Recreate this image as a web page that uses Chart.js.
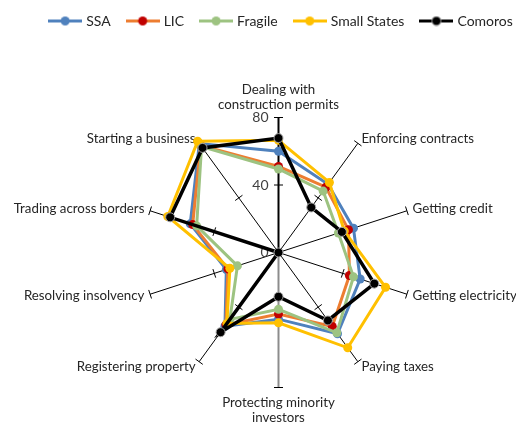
<!DOCTYPE html>
<html>
<head>
<meta charset="utf-8">
<script src="https://cdn.jsdelivr.net/npm/chart.js@4.4.1/dist/chart.umd.min.js"></script>
<style>
  body { margin: 0; background: #fff; }
  #wrap { width: 516px; height: 424px; }
</style>
</head>
<body>
<div id="wrap"><canvas id="radar" width="516" height="424"></canvas></div>
<script>
var indicators = [
    ['Dealing with', 'construction permits'],
    'Enforcing contracts',
    'Getting credit',
    'Getting electricity',
    'Paying taxes',
    ['Protecting minority', 'investors'],
    'Registering property',
    'Resolving insolvency',
    'Trading across borders',
    'Starting a business'
];

var ssa         = [60, 50, 46.7, 50.9, 59.5, 39.5, 54, 32.5, 55, 79.8];
var lic         = [51, 47.8, 43.6, 44.2, 54.2, 36.5, 53, 31.5, 53.5, 78.5];
var fragile     = [49.5, 45, 37.3, 46.7, 58.8, 33.7, 49, 25.6, 51, 77.6];
var smallStates = [66.5, 51.3, 41, 66.7, 69.8, 41.7, 52, 30.3, 69, 81.5];
var comoros     = [67.8, 33, 39.5, 59.7, 49.8, 26.2, 58.4, 0, 67.5, 76.6];

var tickValues = [0, 40, 80];

var FONT = 'Lato, "DejaVu Sans", sans-serif';
var TEXT = '#262626';

// plot frame (Excel puts the radar off-centre, below a roomy legend)
var plotCenter = { x: 278.5, y: 252.5 };
var plotRadius = 135;

// legend swatch: a short line with the marker in the middle
function swatch(lineColor, markerColor, markerBorder) {
    var c = document.createElement('canvas');
    c.width = 34;
    c.height = 11;
    var g = c.getContext('2d');
    g.strokeStyle = lineColor;
    g.lineWidth = 3;
    g.beginPath();
    g.moveTo(0, 5.5);
    g.lineTo(34, 5.5);
    g.stroke();
    g.beginPath();
    g.arc(17, 5.5, 4.5, 0, Math.PI * 2);
    g.fillStyle = markerColor;
    g.fill();
    if (markerBorder) {
        g.lineWidth = 1;
        g.strokeStyle = markerBorder;
        g.stroke();
    }
    return c;
}

function series(label, data, line, marker, border, order, width) {
    return {
        label: label,
        data: data,
        borderColor: line,
        backgroundColor: line,
        borderWidth: width || 3,
        pointBackgroundColor: marker,
        pointBorderColor: border || marker,
        pointBorderWidth: border ? 1 : 0,
        pointRadius: 4.5,
        pointHoverRadius: 4.5,
        fill: false,
        tension: 0,
        order: order,
        swatch: swatch(line, marker, border)
    };
}

// spoke tick marks, value labels and category labels, Excel-style
var axisDecor = {
    id: 'axisDecor',
    beforeDatasetsDraw: function(chart) {
        var r = chart.scales.r;
        var ctx = chart.ctx;
        var n = chart.data.labels.length;
        ctx.save();
        ctx.strokeStyle = '#000';
        ctx.lineWidth = 1;
        for (var i = 0; i < n; i++) {
            var a = r.getIndexAngle(i) - Math.PI / 2;
            var px = -Math.sin(a), py = Math.cos(a);
            tickValues.forEach(function(v) {
                if (v === 0) return;
                var p = r.getPointPosition(i, r.getDistanceFromCenterForValue(v));
                ctx.beginPath();
                ctx.moveTo(p.x - px * 4.5, p.y - py * 4.5);
                ctx.lineTo(p.x + px * 4.5, p.y + py * 4.5);
                ctx.stroke();
            });
        }

        ctx.fillStyle = '#404040';
        ctx.font = '14px ' + FONT;
        ctx.textAlign = 'right';
        ctx.textBaseline = 'middle';
        tickValues.forEach(function(v) {
            ctx.fillText(String(v), r.xCenter - 10, r.yCenter - r.getDistanceFromCenterForValue(v));
        });

        ctx.fillStyle = TEXT;
        ctx.font = '13.3px ' + FONT;
        var lh = 15;
        for (var j = 0; j < n; j++) {
            var deg = Math.round(j * 360 / n);
            var lines = [].concat(chart.data.labels[j]);
            if (deg === 0) {
                var pt = r.getPointPosition(j, r.drawingArea + 6);
                ctx.textAlign = 'center';
                ctx.textBaseline = 'bottom';
                lines.forEach(function(s, k) {
                    ctx.fillText(s, pt.x, pt.y - (lines.length - 1 - k) * lh);
                });
            } else if (deg === 180) {
                var pb = r.getPointPosition(j, r.drawingArea + 9);
                ctx.textAlign = 'center';
                ctx.textBaseline = 'top';
                lines.forEach(function(s, k) {
                    ctx.fillText(s, pb.x, pb.y + k * lh);
                });
            } else {
                var ps = r.getPointPosition(j, r.drawingArea + 6);
                ctx.textAlign = deg < 180 ? 'left' : 'right';
                ctx.textBaseline = 'middle';
                ctx.fillText(lines.join(' '), ps.x, ps.y);
            }
        }
        ctx.restore();
    }
};

// nudge the legend so it sits where Excel put it
var legendNudge = {
    id: 'legendNudge',
    afterLayout: function(chart) {
        chart.legend.left += 24;
        chart.legend.right += 24;
        chart.legend.top -= 4;
        chart.legend.bottom -= 4;
    }
};

var ctx = document.getElementById('radar').getContext('2d');
window.myRadar = new Chart(ctx, {
    type: 'radar',
    data: {
        labels: indicators,
        datasets: [
            series('SSA', ssa, '#4F81BD', '#4F81BD', null, 5),
            series('LIC', lic, '#ED7D31', '#C00000', null, 4),
            series('Fragile', fragile, '#9DC381', '#9DC381', null, 3),
            series('Small States', smallStates, '#FFC000', '#FFC000', null, 2),
            series('Comoros', comoros, '#000000', '#000000', '#A6A6A6', 1, 3.5)
        ]
    },
    options: {
        responsive: false,
        animation: false,
        plugins: {
            tooltip: { enabled: false },
            legend: {
                position: 'top',
                labels: {
                    usePointStyle: true,
                    pointStyleWidth: 28,
                    padding: 18,
                    color: TEXT,
                    font: { family: FONT, size: 14 },
                    generateLabels: function(chart) {
                        return chart.data.datasets.map(function(ds, i) {
                            return {
                                text: ds.label,
                                pointStyle: ds.swatch,
                                fillStyle: 'transparent',
                                strokeStyle: 'transparent',
                                lineWidth: 0,
                                fontColor: TEXT,
                                hidden: false,
                                datasetIndex: i
                            };
                        });
                    }
                }
            }
        },
        scales: {
            r: {
                min: 0,
                max: 80,
                ticks: { stepSize: 40, display: false },
                grid: { display: false },
                pointLabels: { display: false },
                angleLines: {
                    display: true,
                    color: function(c) { return c.index === 5 ? '#8C8C8C' : '#000'; },
                    lineWidth: function(c) { return (c.index === 0 || c.index === 5) ? 2 : 1; }
                },
                afterFit: function(scale) {
                    scale.xCenter = plotCenter.x;
                    scale.yCenter = plotCenter.y;
                    scale.drawingArea = plotRadius;
                }
            }
        }
    },
    plugins: [axisDecor, legendNudge]
});
</script>
</body>
</html>
